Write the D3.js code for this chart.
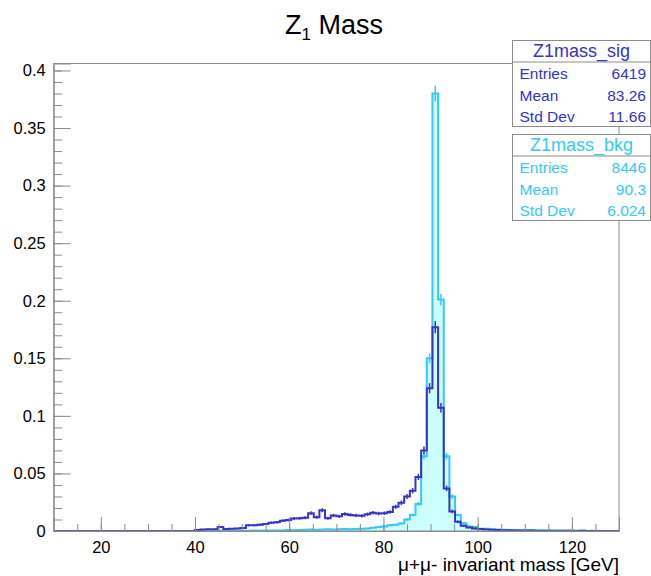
<!DOCTYPE html>
<html>
<head>
<meta charset="utf-8">
<script src="https://cdn.jsdelivr.net/npm/d3@7"></script>
<style>
  body { margin: 0; background: #fff; }
  svg { display: block; font-family: "Liberation Sans", Arial, sans-serif; }
</style>
</head>
<body>
<div id="chart"></div>
<script>
// binning of both histograms: 100 bins between 10 and 130 GeV
const xMin = 10, xMax = 130, nBins = 100;

// normalised bin contents
const sigValues = [
  0, 0, 0, 0, 0, 0, 0, 0, 0, 0,
  0, 0, 0, 0, 0, 0, 0, 0, 0, 0,
  0, 0, 0, 0, 0, 0.0008, 0.0012, 0.0015, 0.0016, 0.0035,
  0.0018, 0.002, 0.0021, 0.0025, 0.005, 0.005, 0.0055, 0.006, 0.0072, 0.0076,
  0.009, 0.0095, 0.0108, 0.011, 0.0115, 0.0155, 0.012, 0.018, 0.011, 0.0135,
  0.0128, 0.0148, 0.014, 0.0135, 0.0132, 0.0145, 0.0158, 0.0152, 0.0155, 0.0165,
  0.021, 0.0245, 0.030, 0.035, 0.047, 0.070, 0.124, 0.177, 0.107, 0.037,
  0.017, 0.008, 0.0045, 0.003, 0.0022, 0.0018, 0.0012, 0.001, 0.0008, 0.0007,
  0.0006, 0.0005, 0.0005, 0.0004, 0.0004, 0.0003, 0.0003, 0.0003, 0.0002, 0.0002,
  0.0002, 0.0002, 0.0001, 0.0002, 0.0001, 0.0001, 0.0001, 0, 0.0001, 0
];
const bkgValues = [
  0, 0, 0, 0, 0, 0, 0, 0, 0, 0,
  0, 0, 0, 0, 0, 0, 0, 0, 0, 0,
  0, 0, 0, 0, 0, 0, 0, 0, 0, 0.0002,
  0.0002, 0.0003, 0.0002, 0.0003, 0.0003, 0.0004, 0.0003, 0.0004, 0.0005, 0.0004,
  0.0005, 0.0008, 0.0006, 0.0009, 0.001, 0.0012, 0.001, 0.0013, 0.0015, 0.0012,
  0.0016, 0.0018, 0.0015, 0.0017, 0.002, 0.0022, 0.0028, 0.0035, 0.004, 0.005,
  0.0055, 0.0065, 0.010, 0.014, 0.0235, 0.065, 0.150, 0.380, 0.201, 0.065,
  0.030, 0.014, 0.0067, 0.004, 0.0035, 0.002, 0.002, 0.0015, 0.0012, 0.001,
  0.0009, 0.0008, 0.0007, 0.0006, 0.0006, 0.0005, 0.0004, 0.0004, 0.0003, 0.0003,
  0.0003, 0.0002, 0.0002, 0.0002, 0.0001, 0.0002, 0.0001, 0.0001, 0.0001, 0.0001
];

const sigEntries = 6419, bkgEntries = 8446;

const xTicks = [20, 40, 60, 80, 100, 120];
const yTicks = [0, 0.05, 0.1, 0.15, 0.2, 0.25, 0.3, 0.35, 0.4];

const sigStats = [["Entries", "6419"], ["Mean", "83.26"], ["Std Dev", "11.66"]];
const bkgStats = [["Entries", "8446"], ["Mean", "90.3"], ["Std Dev", "6.024"]];

const sigColor = "#3434c8", bkgColor = "#36c8fa", bkgFill = "#ccffff";
const frameColor = "#8c8c8c";

const width = 651, height = 576;
const margin = {top: 63.5, right: 32, bottom: 45, left: 53.7};

const svg = d3.select("#chart").append("svg")
  .attr("width", width)
  .attr("height", height);

const binW = (xMax - xMin) / nBins;
const toBins = (vals, n) => vals.map((v, i) => ({
  lo: xMin + i * binW, hi: xMin + (i + 1) * binW, v: v, err: Math.sqrt(v / n)
}));
const sig = toBins(sigValues, sigEntries);
const bkg = toBins(bkgValues, bkgEntries);

const yMax = 1.05 * d3.max(sig.concat(bkg), d => d.v + d.err);

const x = d3.scaleLinear().domain([xMin, xMax]).range([margin.left, width - margin.right]);
const y = d3.scaleLinear().domain([0, yMax]).range([height - margin.bottom, margin.top]);

// step outline of a histogram
function stepPath(bins) {
  const p = d3.path();
  p.moveTo(x(xMin), y(0));
  bins.forEach(b => { p.lineTo(x(b.lo), y(b.v)); p.lineTo(x(b.hi), y(b.v)); });
  p.lineTo(x(xMax), y(0));
  return p.toString();
}

function drawHist(bins, color, fill) {
  const g = svg.append("g");
  if (fill) {
    g.append("path").attr("d", stepPath(bins) + "Z").attr("fill", fill).attr("stroke", "none");
  }
  g.append("path").attr("d", stepPath(bins))
    .attr("fill", "none").attr("stroke", color).attr("stroke-width", 2);
  g.selectAll("line").data(bins.filter(b => b.v > 0)).join("line")
    .attr("x1", b => x((b.lo + b.hi) / 2)).attr("x2", b => x((b.lo + b.hi) / 2))
    .attr("y1", b => y(b.v - b.err)).attr("y2", b => y(b.v + b.err))
    .attr("stroke", color).attr("stroke-width", 1.5);
}

drawHist(bkg, bkgColor, bkgFill);
drawHist(sig, sigColor, null);

// frame
svg.append("rect")
  .attr("x", x(xMin)).attr("y", y(yMax))
  .attr("width", x(xMax) - x(xMin)).attr("height", y(0) - y(yMax))
  .attr("fill", "none").attr("stroke", frameColor).attr("stroke-width", 1);

// axes, ticks drawn inwards like ROOT
const xMinor = d3.range(xMin + 5, xMax, 5);
const yMinor = d3.range(0, yMax, 0.01);

svg.append("g")
  .attr("transform", `translate(0,${y(0)})`)
  .call(d3.axisBottom(x).tickValues(xMinor).tickSize(-7).tickFormat(""))
  .call(g => g.select(".domain").remove());
svg.append("g")
  .attr("transform", `translate(0,${y(0)})`)
  .call(d3.axisBottom(x).tickValues(xTicks).tickSize(-14).tickPadding(10).tickFormat(d3.format("d")))
  .call(g => g.select(".domain").attr("stroke", frameColor))
  .attr("font-size", 16.5).attr("font-family", null);

svg.append("g")
  .attr("transform", `translate(${x(xMin)},0)`)
  .call(d3.axisLeft(y).tickValues(yMinor).tickSize(-8.5).tickFormat(""))
  .call(g => g.select(".domain").remove());
svg.append("g")
  .attr("transform", `translate(${x(xMin)},0)`)
  .call(d3.axisLeft(y).tickValues(yTicks).tickSize(-17).tickPadding(8).tickFormat(d => String(+d.toFixed(2))))
  .call(g => g.select(".domain").attr("stroke", frameColor))
  .attr("font-size", 16.5).attr("font-family", null);

svg.selectAll(".tick line").attr("stroke", frameColor);
svg.selectAll(".tick text").attr("fill", "#000");

// axis title
svg.append("text")
  .attr("x", x(xMax)).attr("y", 571)
  .attr("text-anchor", "end").attr("font-size", 19)
  .text("μ+μ- invariant mass [GeV]");

// title
const title = svg.append("text")
  .attr("x", 334).attr("y", 34)
  .attr("text-anchor", "middle").attr("font-size", 27);
title.append("tspan").text("Z");
title.append("tspan").attr("font-size", 17).attr("dy", 6).text("1");
title.append("tspan").attr("dy", -6).text(" Mass");

// statistics boxes
function statsBox(top, name, rows, color) {
  const g = svg.append("g");
  const bx = 512.5, bw = 138, headH = 21.5, rowH = 21.5;
  g.append("rect").attr("x", bx).attr("y", top).attr("width", bw).attr("height", headH + rows.length * rowH)
    .attr("fill", "#fff").attr("stroke", frameColor);
  g.append("line").attr("x1", bx).attr("x2", bx + bw).attr("y1", top + headH).attr("y2", top + headH)
    .attr("stroke", frameColor);
  g.append("text").attr("x", bx + bw / 2).attr("y", top + 16.5)
    .attr("text-anchor", "middle").attr("font-size", 18).attr("fill", color).text(name);
  rows.forEach((r, i) => {
    const by = top + headH + rowH * i + 17;
    g.append("text").attr("x", bx + 7).attr("y", by).attr("font-size", 15.5).attr("fill", color).text(r[0]);
    g.append("text").attr("x", bx + 133.5).attr("y", by).attr("text-anchor", "end")
      .attr("font-size", 15.5).attr("fill", color).text(r[1]);
  });
}
statsBox(40.5, "Z1mass_sig", sigStats, sigColor);
statsBox(134.5, "Z1mass_bkg", bkgStats, bkgColor);
</script>
</body>
</html>
